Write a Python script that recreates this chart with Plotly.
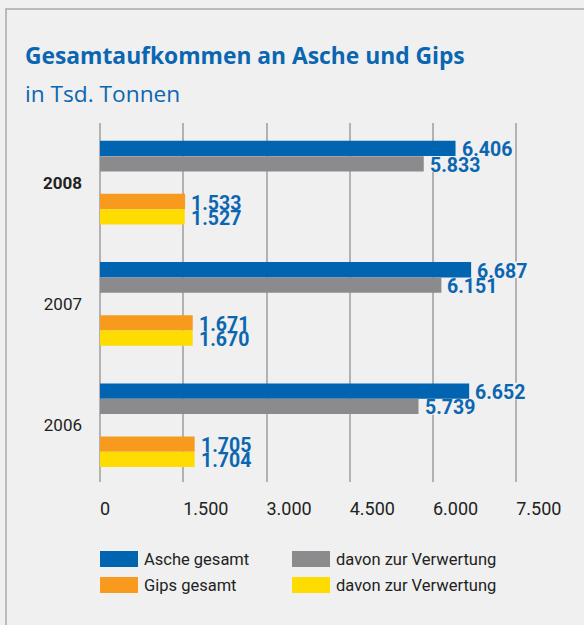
import plotly.graph_objects as go

# ---- data ----
years = ["2006", "2007", "2008"]
asche_gesamt = [6652, 6687, 6406]
asche_verwertung = [5739, 6151, 5833]
gips_gesamt = [1705, 1671, 1533]
gips_verwertung = [1704, 1670, 1527]
series_names = ["Asche gesamt", "davon zur Verwertung", "Gips gesamt", "davon zur Verwertung"]
x_ticks = [0, 1500, 3000, 4500, 6000, 7500]

# ---- style ----
BG = "#eff0ef"
BLUE = "#0064b1"
GRAY = "#8b8b8d"
ORANGE = "#f79a1e"
YELLOW = "#ffdc00"
TEXT_BLUE = "#0b66b2"
DARK = "#222222"
GRID = "#b2b2b2"
FONT = "Roboto"
TITLE_FONT = "Open Sans"

W, H = 584, 625
L, R, T, B = 92, 40, 123, 143
PW, PH = W - L - R, H - T - B


def pxx(p):
    return (p - L) / PW


def pxy(p):
    return 1 - (p - T) / PH


def fmt(v):
    return f"{v:,}".replace(",", ".")


offsets = [0.2818, 0.1555, -0.1555, -0.2818]
colors = [BLUE, GRAY, ORANGE, YELLOW]
series = [asche_gesamt, asche_verwertung, gips_gesamt, gips_verwertung]
BW = 0.126

fig = go.Figure()
annotations = []
shapes = []
for vals, off, col, name in zip(series, offsets, colors, series_names):
    ys = [i + off for i in range(len(years))]
    fig.add_trace(go.Bar(
        orientation="h", x=vals, y=ys, width=BW, name=name,
        marker=dict(color=col, line=dict(width=0)), showlegend=False,
        hoverinfo="x+name",
    ))
    for v, y in zip(vals, ys):
        annotations.append(dict(
            x=v, y=y, xref="x", yref="y", text=f"<b>{fmt(v)}</b>",
            showarrow=False, xanchor="left", yanchor="middle",
            xshift=5, yshift=-1.5, borderpad=0,
            font=dict(family=FONT, size=19.5, color=TEXT_BLUE),
        ))
        # mask gridlines behind label
        shapes.append(dict(
            type="rect", xref="x", yref="y", layer="between",
            x0=v + 50, x1=v + 1050, y0=y - 0.068, y1=y + 0.068,
            fillcolor=BG, line=dict(width=0),
        ))

# title + subtitle
annotations.append(dict(
    xref="paper", yref="paper", x=pxx(23), y=pxy(56), xanchor="left", yanchor="middle",
    text="<b>Gesamtaufkommen an Asche und Gips</b>", showarrow=False,
    font=dict(family=TITLE_FONT, size=22.8, color=TEXT_BLUE),
))
annotations.append(dict(
    xref="paper", yref="paper", x=pxx(23), y=pxy(94), xanchor="left", yanchor="middle",
    text="in Tsd. Tonnen", showarrow=False,
    font=dict(family=TITLE_FONT, size=22.7, color=TEXT_BLUE),
))

# legend (manual, 2x2)
legend_pos = [(100, 551), (292, 551), (100, 577), (292, 577)]
for (lx, ly), col, name in zip(legend_pos, colors, series_names):
    shapes.append(dict(
        type="rect", xref="paper", yref="paper",
        x0=pxx(lx), x1=pxx(lx + 38), y0=pxy(ly + 16), y1=pxy(ly),
        fillcolor=col, line=dict(width=0),
    ))
    annotations.append(dict(
        xref="paper", yref="paper", x=pxx(lx + 42), y=pxy(ly + 8.5),
        xanchor="left", yanchor="middle", text=name, showarrow=False,
        font=dict(family=FONT, size=16.5, color=DARK),
    ))

# frame
shapes.append(dict(
    type="rect", xref="paper", yref="paper", layer="below",
    x0=pxx(6), x1=pxx(700), y0=pxy(700), y1=pxy(9),
    fillcolor="rgba(0,0,0,0)", line=dict(color="#a9a9a9", width=1.5),
))

fig.update_layout(
    width=W, height=H,
    margin=dict(l=L, r=R, t=T, b=B, pad=0),
    paper_bgcolor=BG, plot_bgcolor=BG,
    barmode="overlay",
    separators=",.",
    showlegend=False,
    annotations=annotations,
    shapes=shapes,
    font=dict(family=FONT, color=DARK),
    xaxis=dict(
        range=[-144, 8000], tickvals=x_ticks, tickformat=",d",
        showgrid=True, gridcolor=GRID, gridwidth=1.5,
        zeroline=False, showline=False, ticks="",
        ticklabelposition="outside right", ticklabelstandoff=14,
        tickfont=dict(family=FONT, size=18, color=DARK),
        fixedrange=True,
    ),
    yaxis=dict(
        range=[-0.4678, 2.4917], tickvals=[0, 1, 2],
        ticktext=[years[0], years[1], f"<b>{years[2]}</b>"],
        showgrid=False, zeroline=False, showline=False, ticks="",
        ticklabelstandoff=9,
        tickfont=dict(family=FONT, size=17, color=DARK),
        fixedrange=True,
    ),
)

fig.write_html(
    "out.html",
    config={"displayModeBar": False},
    post_script=f"document.body.style.margin='0';document.body.style.background='{BG}';",
)
